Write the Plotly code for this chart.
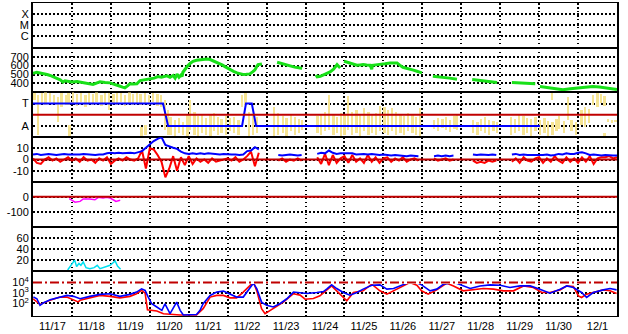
import numpy as np
import plotly.graph_objects as go
from plotly.subplots import make_subplots

# ---------------- data (time in days since 11/17 00:00) ----------------
DAY_LABELS = ["11/17", "11/18", "11/19", "11/20", "11/21", "11/22", "11/23", "11/24",
              "11/25", "11/26", "11/27", "11/28", "11/29", "11/30", "12/1"]

XRAY_LEVELS = [1, 2, 3]
XRAY_TEXT = ["C", "M", "X"]

# solar wind speed (km/s)
SW_T = [0.00,0.10,0.18,0.27,0.36,0.44,0.51,0.58,0.64,0.70,
        0.77,0.82,0.87,1.00,1.13,1.26,1.39,1.46,1.54,1.63,
        1.72,1.85,1.98,2.05,2.11,2.20,2.30,2.36,2.42,2.49,
        2.58,2.67,2.75,2.88,3.01,3.11,3.21,3.30,3.44,3.52,
        3.60,3.65,3.70,3.75,3.80,3.83,3.85,3.92,3.98,4.05,
        4.11,4.20,4.29,4.38,4.47,4.55,4.62,4.70,4.80,4.87,
        4.93,5.00,5.06,5.15,5.24,5.32,5.39,5.48,5.57,5.64,
        5.70,5.74,5.78,5.88,6.00,6.27,6.35,6.42,6.50,6.60,
        6.72,6.86,6.91,7.10,7.27,7.30,7.38,7.45,7.55,7.63,
        7.72,7.81,7.89,7.94,7.99,8.06,8.14,8.23,8.32,8.40,
        8.48,8.57,8.66,8.70,8.72,8.80,8.91,9.04,9.17,9.26,
        9.35,9.42,9.50,9.59,9.68,9.77,9.86,9.93,9.99,10.10,
        10.27,10.40,10.53,10.70,10.89,11.10,11.28,11.35,11.41,11.50,
        11.66,11.80,11.92,12.10,12.30,12.40,12.51,12.65,12.78,12.90,
        12.96,13.02,13.15,13.28,13.45,13.61,13.80,13.97,14.15,14.38,
        14.55,14.74,14.88,15.00]
SW_V = [515,525,518,505,500,490,478,470,452,440,
        415,430,426,418,422,410,404,398,389,405,
        419,412,407,395,389,375,360,352,370,396,
        393,396,433,440,452,460,478,470,485,470,
        489,460,505,470,495,478,526,570,600,630,
        648,660,667,672,674,668,656,640,626,605,
        589,570,552,535,519,508,500,503,507,530,
        552,585,611,619,None,637,628,619,605,593,
        583,574,567,None,496,474,480,493,510,530,
        560,611,574,None,648,640,630,615,604,608,
        611,606,604,560,604,608,611,620,630,632,
        630,605,581,570,563,550,537,528,519,None,
        481,476,470,460,448,None,444,441,433,428,
        426,418,411,None,411,408,404,400,398,396,
        None,367,360,352,342,330,340,348,358,367,
        360,352,345,333]

# IMF sector / phi angle (deg); T=315, A=135
SECTOR_TICKS = [135, 315]
SECTOR_TEXT = ["A", "T"]
SEC_T = [0.0, 3.34, 3.47, 5.37, 5.47, 5.62, 5.73, 13.02]
SEC_V = [315, 315, 135, 135, 315, 315, 135, 135]
YEL_T = [0.03,0.13,0.23,0.33,0.44,0.54,0.64,0.74,0.85,0.92,
         0.93,1.03,1.13,1.23,1.34,1.44,1.54,1.64,1.75,1.85,
         1.95,2.06,2.16,2.26,2.36,2.47,2.57,2.67,2.77,2.78,
         2.88,2.89,2.98,3.08,3.19,3.29,3.39,3.47,3.54,3.65,
         3.75,3.85,3.96,4.03,4.14,4.24,4.34,4.44,4.55,4.65,
         4.75,4.85,4.96,5.06,5.16,5.27,5.37,5.45,5.55,5.65,
         5.75,6.19,6.29,6.42,6.52,6.63,6.73,6.83,6.91,7.30,
         7.40,7.50,7.60,7.71,7.81,7.91,8.01,8.09,8.19,8.30,
         8.40,8.50,8.61,8.71,8.81,8.91,9.02,9.12,9.22,9.32,
         9.43,9.53,9.63,9.74,9.84,9.94,10.30,10.40,10.51,10.61,
         10.71,10.82,10.89,11.30,11.41,11.51,11.61,11.71,11.82,11.92,
         12.28,12.38,12.48,12.59,12.69,12.79,12.90,13.02,13.13,13.23,
         13.33,13.34,13.44,13.51,13.64,13.74,13.84,13.95,14.08,14.18,
         14.28,14.38,14.49,14.59,14.67,14.68,14.77,14.87,14.97]
YEL_LO = [341,61,317,301,325,309,165,285,301,301,
          45,317,293,325,285,309,301,325,293,309,
          261,317,301,325,293,309,301,317,301,45,
          317,61,301,325,293,285,101,61,61,45,
          77,61,45,101,61,45,77,61,45,93,
          61,77,61,93,77,61,285,301,45,61,
          77,45,61,77,45,93,61,77,101,77,
          61,93,101,61,77,45,61,101,61,77,
          45,93,61,77,61,93,77,61,93,61,
          77,61,93,77,61,45,109,93,117,101,
          85,109,101,77,61,93,77,61,93,77,
          61,77,93,61,77,45,93,61,77,45,
          341,61,93,109,77,181,93,61,141,125,
          157,301,285,317,293,45,165,157,165]
YEL_HI = [397,381,397,405,397,381,365,397,381,397,
          141,405,389,397,381,397,389,405,381,397,
          397,389,397,397,381,405,389,397,389,125,
          397,141,381,397,389,381,341,261,205,181,
          197,165,221,341,245,213,229,197,221,237,
          205,189,213,197,205,181,381,397,245,221,
          205,285,237,213,197,229,205,189,181,213,
          229,245,381,221,205,237,229,373,245,261,
          229,277,245,221,237,293,285,261,277,245,
          229,213,237,221,205,277,181,197,189,205,
          181,213,229,181,165,189,205,181,173,165,
          205,189,229,213,197,189,205,181,197,173,
          397,165,189,213,173,365,181,165,261,285,
          269,381,397,389,373,77,189,181,181]

# IMF (nT), sampled every 0.1 day from 0 to 15
BT = [4.5,5,4,4.5,5,4.5,4,4.5,5,4.5,
      4.5,4,4.5,5,4.5,4.5,4,4.5,4.5,5.5,
      6,5.5,6,5.5,6,6,5.5,6.5,7.5,10.5,
      13.5,16.5,18.5,20,13,11.5,10.5,9.5,7,5.5,
      5,5.5,5,5.5,5,5.5,5,5,4.5,5,
      4.5,4.5,4.5,4,4.5,7.5,8,11,9,None,
      None,None,None,4,3.5,4,4.5,4,3.5,4,
      None,None,None,5,6,5.5,8,6,5,5.5,
      5.5,5,5.5,4.5,5,5,4.5,5,4.5,4,
      4.5,4,3.5,4,3.5,3.5,3,3.5,3.5,3,
      None,None,None,3,3.5,3,3.5,3,3.5,None,
      None,None,None,4.5,4,4.5,4,4,4.5,4,
      None,None,None,4.5,5,4,4.5,4,4,3.5,
      3.5,4,4.5,3.5,4,5,4.5,5.5,5,5,
      6,6.5,5.5,4,4.5,4,3.5,4,3.5,3.5,3.5]
BZ = [1,-3,-4,0,2,-1,1,-2,0,2,
      -1,1,-2,2,-1,0,-3,1,-1,2,
      -4,-1,1,-1,2,0,-1,1,8,-8,
      10,9,4,-2,-16,-8,3,-10,2,-5,
      3,-4,1,-2,0,-3,1,-2,-1,0,
      1,-1,2,-2,0,3,7,-6,6,None,
      None,None,None,-1,1,-2,0,-1,1,-1,
      None,None,None,2,-4,5,-5,4,-3,1,
      3,-3,4,-2,1,-3,4,-2,2,-3,
      1,2,-2,1,-1,2,-2,0,1,-1,
      None,None,None,1,-1,0,1,-1,0,None,
      None,None,None,-1,-3,-2,-3,-1,-2,-1,
      None,None,None,-2,1,-3,2,-1,-2,1,
      2,-3,1,-2,3,-1,-3,2,-2,1,
      -3,2,-2,3,-4,1,2,2,3,1,2]

# Dst-like index (nT)
DST_T = [0.93,0.99,1.08,1.21,1.29,1.46,1.59,1.68,1.80,1.89,1.98,2.06,2.13,2.24]
DST_V = [-13,-20,-36,-31,-15,-15,-20,-4,-9,-4,-9,-20,-31,-24]

# proton density (cm^-3)
DEN_T = [0.89,0.95,1.02,1.07,1.12,1.18,1.23,1.29,1.36,1.46,1.57,1.65,1.72,1.81,1.89,1.98,2.11,2.17,2.25]
DEN_V = [2.4,8.3,16.6,20,8.3,14,10.7,16.6,6.5,4.7,6.5,10.7,4.7,6.5,8.3,10.7,18.4,9.5,3.6]

# electron flux, log10 values
FB_T = [0.01,0.10,0.18,0.26,0.44,0.69,0.87,1.04,1.21,1.46,1.72,1.98,2.23,2.49,2.66,
        2.79,2.88,2.96,3.05,3.18,3.31,3.39,3.52,3.69,3.78,3.86,4.03,4.20,4.29,4.37,
        4.55,4.72,4.89,5.06,5.23,5.40,5.57,5.66,5.75,5.87,6.00,6.17,6.34,6.52,6.69,
        6.86,7.03,7.29,7.46,7.55,7.67,7.80,7.97,8.14,8.32,8.48,8.70,8.91,9.09,9.26,
        9.43,9.60,9.81,9.98,10.20,10.37,10.54,10.71,10.88,11.05,11.23,11.48,11.74,12.00,12.25,
        12.51,12.77,13.02,13.28,13.54,13.71,13.88,14.09,14.22,14.39,14.65,14.82,14.99]
FB_L = [2.61,2.45,1.82,2.04,2.35,2.61,2.77,2.68,2.45,2.68,2.87,2.93,2.68,2.87,3.09,
        3.40,3.25,2.61,1.97,1.66,1.34,1.97,1.02,2.13,1.34,0.90,0.90,0.95,1.34,1.97,
        2.77,3.09,3.18,2.93,2.61,2.61,3.56,3.94,3.40,2.13,1.82,1.66,1.97,2.45,3.09,
        3.02,2.95,3.05,3.14,3.40,3.78,3.43,3.05,2.79,3.05,3.37,3.75,3.78,3.37,3.43,
        3.68,3.94,4.06,3.78,3.21,3.37,3.84,3.94,3.94,3.68,3.43,3.68,3.78,3.75,3.53,
        3.68,3.68,3.37,2.98,3.37,3.68,3.53,3.05,2.57,3.05,3.30,3.43,3.30]
FR_T = [0.00,0.18,0.44,0.69,0.87,1.04,1.16,1.21,1.46,1.72,1.98,2.23,2.49,2.66,2.79,
        2.88,2.94,3.05,3.18,3.35,3.52,3.78,4.03,4.20,4.37,4.55,4.72,4.89,5.06,5.23,
        5.40,5.57,5.66,5.75,5.87,5.96,6.09,6.26,6.43,6.69,6.86,6.99,7.20,7.37,7.67,
        7.80,8.06,8.23,8.48,8.70,8.91,9.09,9.26,9.43,9.68,9.86,9.98,10.15,10.37,10.63,
        10.80,11.05,11.31,11.57,11.83,12.08,12.34,12.60,12.85,13.07,13.28,13.54,13.71,13.88,14.01,
        14.09,14.22,14.39,14.65,14.82,14.99]
FR_L = [2.45,1.91,2.30,2.61,2.61,2.30,2.15,2.30,2.54,2.77,2.68,2.54,2.68,2.93,3.25,
        2.99,1.40,1.34,1.28,1.02,0.95,0.90,0.90,0.90,1.50,2.61,2.77,2.77,2.54,2.54,
        3.09,3.72,4.04,3.18,1.50,1.02,1.34,1.72,2.13,2.93,2.80,2.41,2.47,2.73,3.68,
        3.21,2.25,3.05,3.21,3.84,3.21,2.89,3.21,3.53,4.00,3.75,3.21,2.89,3.30,3.94,
        3.68,3.21,3.30,3.43,3.37,3.21,3.21,3.68,3.53,3.05,3.05,3.30,3.68,3.62,2.73,
        2.57,2.89,3.05,3.30,3.21,2.95]
FLUX_TICKS = [2, 3, 4]
FLUX_TEXT = ["10<sup>2</sup>", "10<sup>3</sup>", "10<sup>4</sup>"]

assert len(SW_T) == len(SW_V)
assert len(YEL_T) == len(YEL_LO) == len(YEL_HI)
assert len(BT) == len(BZ) == 151
assert len(FB_T) == len(FB_L) and len(FR_T) == len(FR_L)

# ---------------- figure ----------------
GRID_T = np.round(np.arange(len(BT)) * 0.1, 2)
DOT = "1.5px,2.5px"
DARKRED = "#c00000"
FONT = dict(family="Liberation Sans, Arial, sans-serif", size=11, color="black")

fig = make_subplots(rows=7, cols=1, shared_xaxes=True, vertical_spacing=0)

# empty X-ray panel (no flare data in the period) -- keep its axes drawn
fig.add_trace(go.Scatter(x=[None], y=[None], mode="lines", showlegend=False,
                         hoverinfo="skip"), row=1, col=1)

fig.add_trace(go.Scatter(x=SW_T, y=SW_V, mode="lines",
                         line=dict(color="#18e018", width=3)), row=2, col=1)

fig.add_trace(go.Bar(x=YEL_T, base=YEL_LO,
                     y=[h - l for h, l in zip(YEL_HI, YEL_LO)],
                     width=0.07, marker=dict(color="#f6e493", line=dict(width=0))),
              row=3, col=1)
fig.add_trace(go.Scatter(x=SEC_T, y=SEC_V, mode="lines",
                         line=dict(color="#0000ff", width=2)), row=3, col=1)

fig.add_trace(go.Scatter(x=GRID_T, y=BZ, mode="lines",
                         line=dict(color="#ff0000", width=2)), row=4, col=1)
fig.add_trace(go.Scatter(x=GRID_T, y=BT, mode="lines",
                         line=dict(color="#0000ff", width=2)), row=4, col=1)

fig.add_trace(go.Scatter(x=DST_T, y=DST_V, mode="lines",
                         line=dict(color="#ff00ff", width=1.5)), row=5, col=1)
fig.add_trace(go.Scatter(x=DEN_T, y=DEN_V, mode="lines",
                         line=dict(color="#00e0f0", width=1.5)), row=6, col=1)

fig.add_trace(go.Scatter(x=FR_T, y=FR_L, mode="lines",
                         line=dict(color="#ff0000", width=1.6)), row=7, col=1)
fig.add_trace(go.Scatter(x=FB_T, y=FB_L, mode="lines",
                         line=dict(color="#0000ff", width=1.6)), row=7, col=1)

# reference lines
fig.add_hline(y=225, row=3, col=1, line=dict(color=DARKRED, width=2))
fig.add_hline(y=0, row=4, col=1, line=dict(color=DARKRED, width=2))
fig.add_hline(y=0, row=5, col=1, line=dict(color=DARKRED, width=2))
fig.add_hline(y=4, row=7, col=1, line=dict(color="white", width=3))
fig.add_hline(y=4, row=7, col=1, line=dict(color=DARKRED, width=2, dash="9px,3px,2px,3px"))

# axes
centers = [i + 0.5 for i in range(len(DAY_LABELS))]
fig.update_xaxes(range=[0, len(DAY_LABELS)], showline=True, mirror=True,
                 linecolor="black", linewidth=1, showgrid=False, zeroline=False,
                 ticks="", tickmode="array", tickvals=centers, ticktext=DAY_LABELS,
                 minor=dict(tickmode="array", tickvals=list(range(1, len(DAY_LABELS))),
                            showgrid=True, gridcolor="black", griddash=DOT,
                            gridwidth=1.5, ticks=""),
                 tickfont=FONT)

ycfg = {
    1: ([-0.09, 4.0], XRAY_LEVELS, XRAY_TEXT),
    2: ([300, 800], [400, 500, 600, 700], ["400", "500", "600", "700"]),
    3: ([45, 405], SECTOR_TICKS, SECTOR_TEXT),
    4: ([-20, 20], [-10, 0, 10], ["-10", "0", "10"]),
    5: ([-200, 100], [-100, 0], ["-100", "0"]),
    6: ([0, 80], [20, 40, 60], ["20", "40", "60"]),
    7: ([0.8, 5.08], FLUX_TICKS, FLUX_TEXT),
}
for r, (rng, vals, txt) in ycfg.items():
    fig.update_yaxes(row=r, col=1, range=rng, tickmode="array", tickvals=vals,
                     ticktext=txt, showline=True, mirror=True, linecolor="black",
                     linewidth=2, ticks="", zeroline=False, showgrid=True,
                     gridcolor="black", griddash=DOT, gridwidth=1.5,
                     tickfont=FONT)

fig.update_layout(width=628, height=334, margin=dict(l=33, r=11, t=2, b=17),
                  paper_bgcolor="white", plot_bgcolor="white", showlegend=False,
                  barmode="overlay", bargap=0, font=FONT)

fig.write_html("out.html")
